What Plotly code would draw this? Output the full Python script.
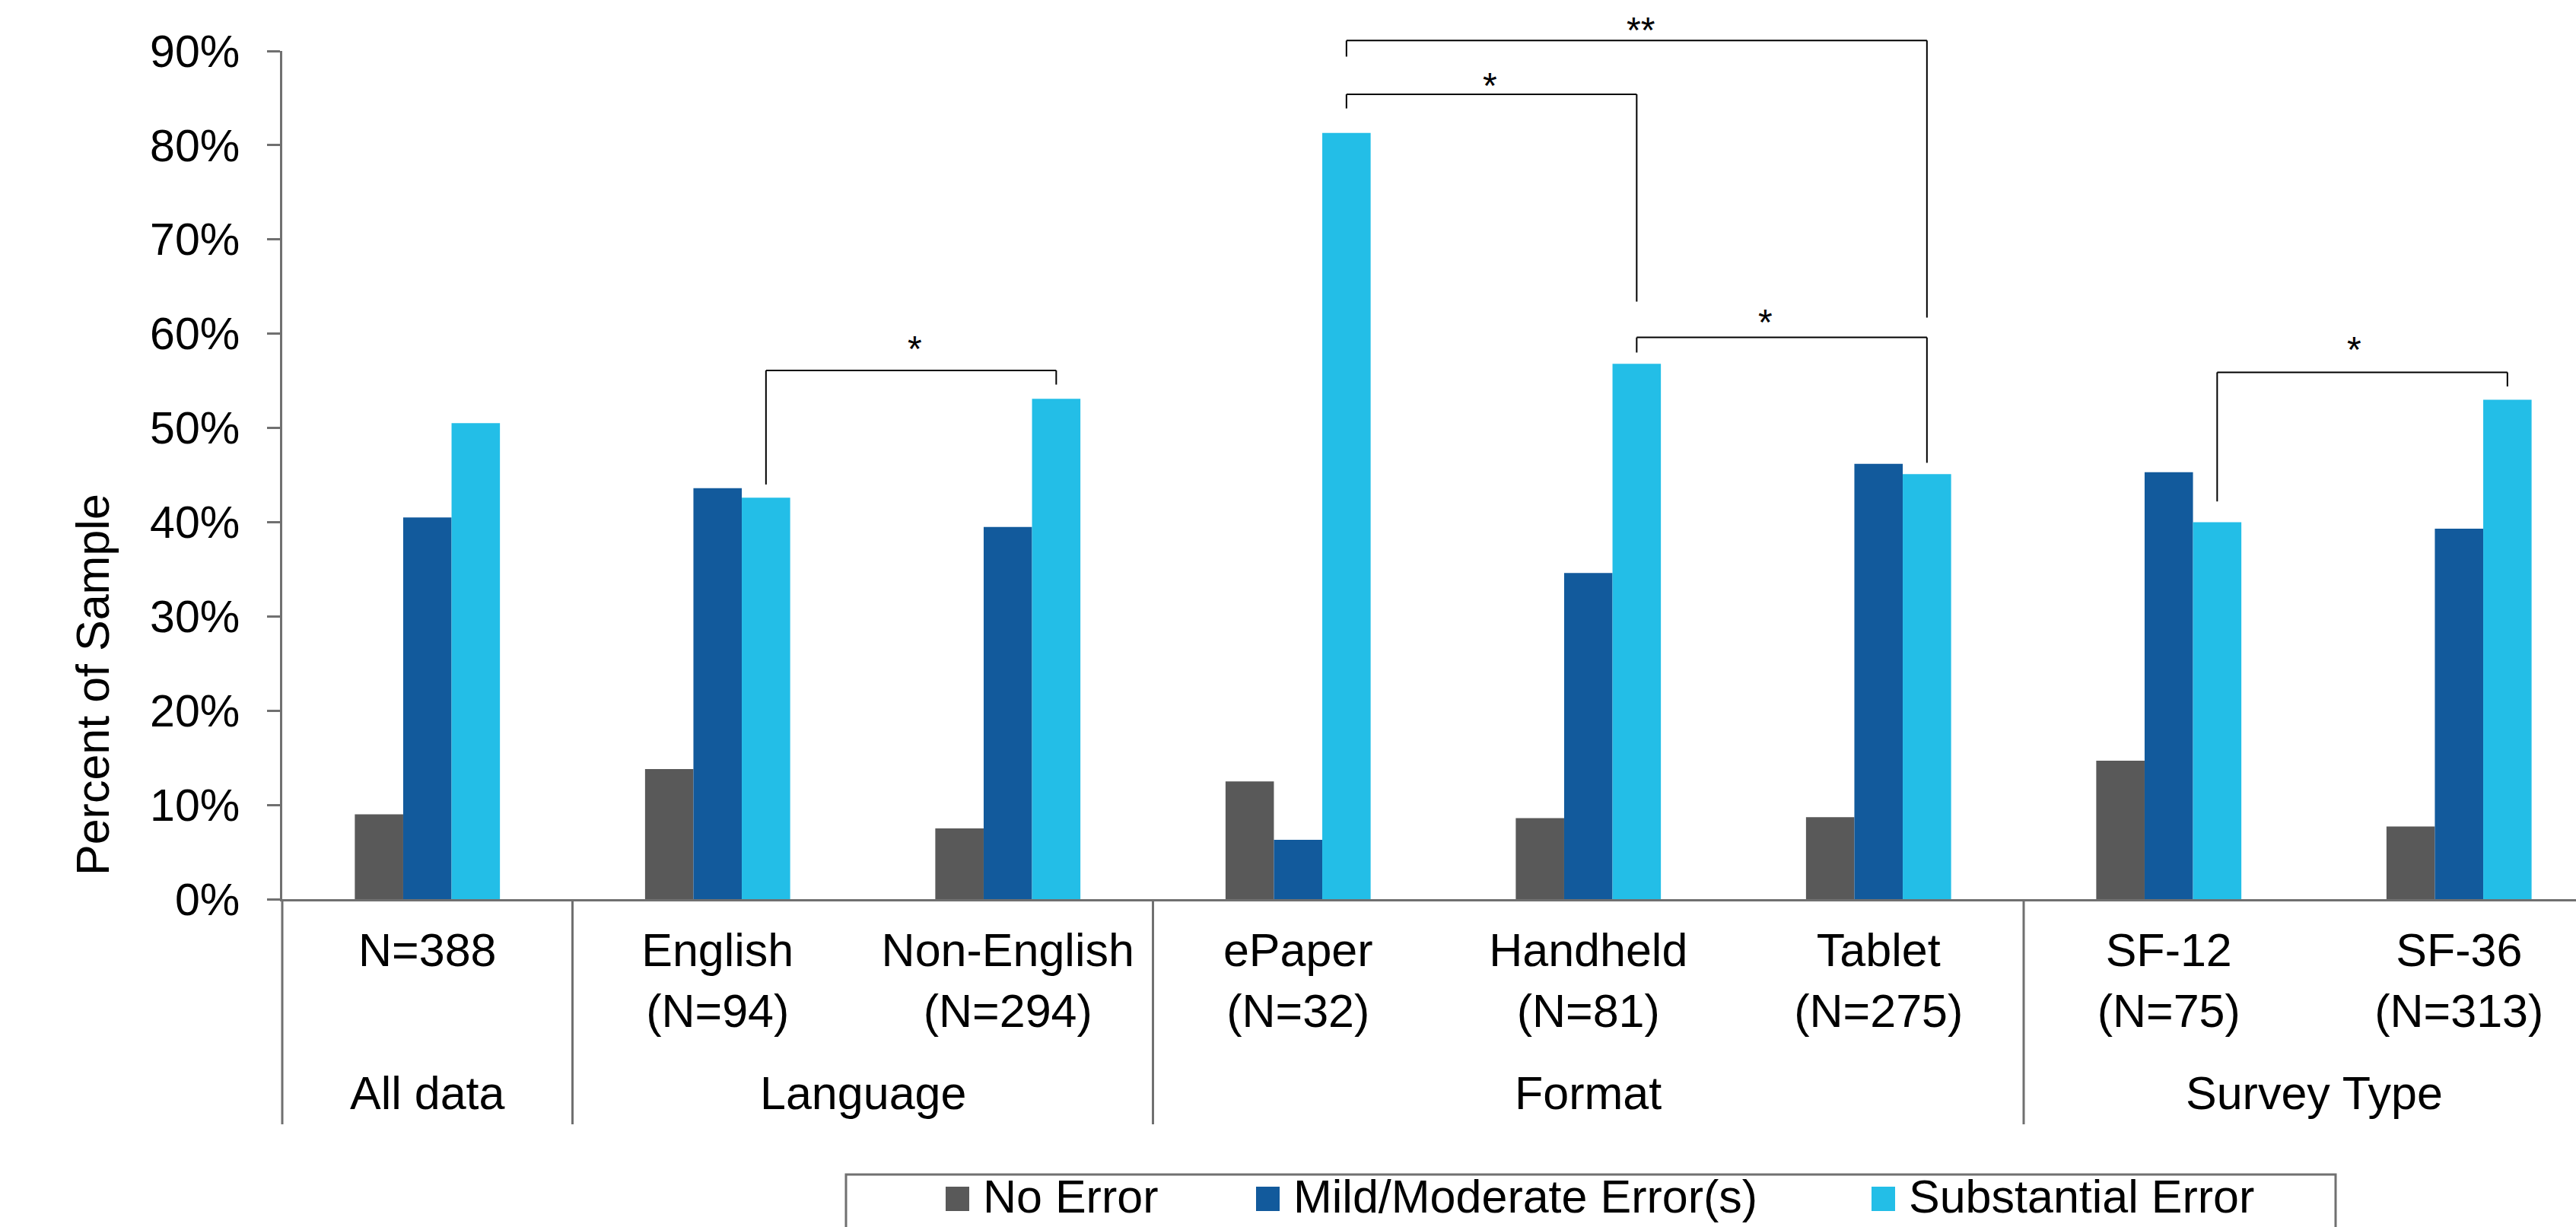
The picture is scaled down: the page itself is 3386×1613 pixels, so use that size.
import plotly.graph_objects as go

# ---------------- data ----------------
categories = ["All", "English", "Non-English", "ePaper", "Handheld", "Tablet", "SF-12", "SF-36"]
tick_labels = ["N=388", "English<br>(N=94)", "Non-English<br>(N=294)", "ePaper<br>(N=32)",
               "Handheld<br>(N=81)", "Tablet<br>(N=275)", "SF-12<br>(N=75)", "SF-36<br>(N=313)"]
group_names = ["All data", "Language", "Format", "Survey Type"]
group_sizes = [1, 2, 3, 2]

series_names = ["No Error", "Mild/Moderate Error(s)", "Substantial Error"]
no_error = [9.0, 13.8, 7.5, 12.5, 8.6, 8.7, 14.7, 7.7]
mild_moderate = [40.5, 43.6, 39.5, 6.3, 34.6, 46.2, 45.3, 39.3]
substantial = [50.5, 42.6, 53.1, 81.3, 56.8, 45.1, 40.0, 53.0]
series_colors = ["#595959", "#125A9C", "#23BEE7"]

y_ticks = [0, 10, 20, 30, 40, 50, 60, 70, 80, 90]
y_tick_labels = ["0%", "10%", "20%", "30%", "40%", "50%", "60%", "70%", "80%", "90%"]

# significance brackets between "Substantial Error" bars (values in percent)
sig_left = [1, 3, 3, 4, 6]
sig_right = [2, 5, 4, 5, 7]
sig_left_low = [44.0, 89.4, 83.9, 58.0, 42.2]
sig_top = [56.1, 91.1, 85.4, 59.6, 55.9]
sig_right_low = [54.6, 61.7, 63.4, 46.3, 54.4]
sig_labels = ["*", "**", "*", "*", "*"]
sig_label_x = [1.68, 4.18, 3.66, 4.61, 6.64]
sig_label_y = [59.3, 93.1, 87.2, 62.1, 59.2]

# ---------------- geometry ----------------
W, H = 3386, 1613
M_L, M_R, M_T, M_B = 371, 0, 67, 431
Y_MAX = 90
BARGAP = 0.5
FONT = "Liberation Sans, Arial, sans-serif"
AXIS_COLOR = "#707070"

x_pos = list(range(len(categories)))
bar_w = (1 - BARGAP) / 3          # width of one bar in category units
last_offset = bar_w               # centre of third bar relative to category


def paper_x(px):
    return (px - M_L) / (W - M_L - M_R)


def paper_y(py):
    return (H - M_B - py) / (H - M_B - M_T)


def pct_to_paper(v):
    return v / Y_MAX


fig = go.Figure()
for name, vals, col in zip(series_names, [no_error, mild_moderate, substantial], series_colors):
    fig.add_trace(go.Bar(name=name, x=x_pos, y=vals, marker=dict(color=col, line=dict(width=0)),
                         showlegend=False))

shapes = []
annotations = []

# significance brackets
for i in range(len(sig_left)):
    xl = sig_left[i] + last_offset
    xr = sig_right[i] + last_offset
    yt = pct_to_paper(sig_top[i])
    line = dict(color="#000000", width=2)
    shapes.append(dict(type="line", xref="x", yref="paper", x0=xl, x1=xl,
                       y0=pct_to_paper(sig_left_low[i]), y1=yt, line=line))
    shapes.append(dict(type="line", xref="x", yref="paper", x0=xl, x1=xr, y0=yt, y1=yt, line=line))
    shapes.append(dict(type="line", xref="x", yref="paper", x0=xr, x1=xr,
                       y0=pct_to_paper(sig_right_low[i]), y1=yt, line=line))
    annotations.append(dict(text=sig_labels[i], xref="x", yref="paper", x=sig_label_x[i],
                            y=pct_to_paper(sig_label_y[i]), yshift=-11, showarrow=False,
                            xanchor="center", yanchor="middle",
                            font=dict(family=FONT, size=48, color="#000000")))

# group dividers and group labels below the axis
div_bottom = paper_y(1478)
shapes.append(dict(type="line", xref="paper", yref="paper", x0=0, x1=0, y0=0, y1=div_bottom,
                   line=dict(color=AXIS_COLOR, width=3)))
start = -0.5
for name, size in zip(group_names, group_sizes):
    end = start + size
    shapes.append(dict(type="line", xref="x", yref="paper", x0=end, x1=end, y0=0, y1=div_bottom,
                       line=dict(color=AXIS_COLOR, width=3)))
    annotations.append(dict(text=name, xref="x", yref="paper", x=(start + end) / 2, y=paper_y(1437),
                            showarrow=False, xanchor="center", yanchor="middle",
                            font=dict(family=FONT, size=61, color="#000000")))
    start = end

# y-axis title
annotations.append(dict(text="Percent of Sample", xref="paper", yref="paper", x=paper_x(122),
                        y=paper_y(900), textangle=-90, showarrow=False, xanchor="center",
                        yanchor="middle", font=dict(family=FONT, size=61, color="#000000")))

# legend box with swatches
shapes.append(dict(type="rect", xref="paper", yref="paper", x0=paper_x(1112), x1=paper_x(3070),
                   y0=paper_y(1544), y1=paper_y(1680), line=dict(color=AXIS_COLOR, width=3),
                   fillcolor="#ffffff", layer="below"))
swatch_left = [1243, 1651, 2460]
for name, col, sx in zip(series_names, series_colors, swatch_left):
    shapes.append(dict(type="rect", xref="paper", yref="paper", x0=paper_x(sx), x1=paper_x(sx + 31),
                       y0=paper_y(1560), y1=paper_y(1592), line=dict(width=0), fillcolor=col))
    annotations.append(dict(text=name, xref="paper", yref="paper", x=paper_x(sx + 47), y=paper_y(1573),
                            showarrow=False, xanchor="left", yanchor="middle",
                            font=dict(family=FONT, size=61, color="#000000")))

fig.update_layout(
    width=W, height=H,
    margin=dict(l=M_L, r=M_R, t=M_T, b=M_B, pad=0),
    paper_bgcolor="#ffffff", plot_bgcolor="#ffffff",
    barmode="group", bargap=BARGAP, bargroupgap=0,
    showlegend=False,
    font=dict(family=FONT, color="#000000"),
    shapes=shapes, annotations=annotations,
)
fig.update_xaxes(
    range=[-0.5, 7.403], tickvals=x_pos, ticktext=tick_labels, ticks="",
    showline=True, linecolor=AXIS_COLOR, linewidth=3, showgrid=False, zeroline=False,
    tickfont=dict(family=FONT, size=61, color="#000000"), ticklabelstandoff=12,
)
fig.update_yaxes(
    range=[0, Y_MAX], tickvals=y_ticks, ticktext=y_tick_labels, ticks="outside", ticklen=17,
    tickwidth=3, tickcolor=AXIS_COLOR, showline=True, linecolor=AXIS_COLOR, linewidth=3,
    showgrid=False, zeroline=False, tickfont=dict(family=FONT, size=59, color="#000000"),
    ticklabelstandoff=24,
)

fig.write_html("out.html")
